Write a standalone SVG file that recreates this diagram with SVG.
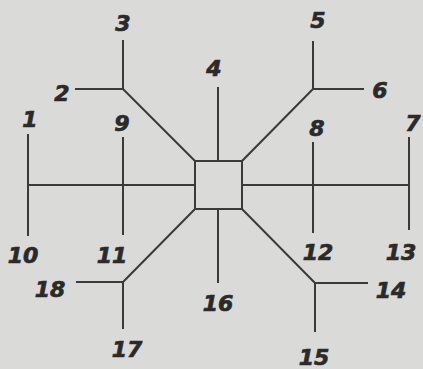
<svg xmlns="http://www.w3.org/2000/svg" width="423" height="369" viewBox="0 0 423 369">
<style>
.c{stroke:#3a3a3a;stroke-width:2;fill:none;stroke-linecap:square}
.t{font-family:"DejaVu Sans",sans-serif;font-weight:bold;font-style:italic;font-size:22px;fill:#2a2a2a;stroke:#2a2a2a;stroke-width:0.7;text-anchor:middle}
</style>
<rect width="423" height="369" fill="#dadad8"/>
<g id="connectors" class="c">
<path d="M28 185H195M242 185H409"/>
<path d="M28 135V235M123 138V234M313 143V232M409 138V229"/>
<path d="M218 88V161M218 209V282"/>
<path d="M195 161L123 89M123 41V89M76 89H123"/>
<path d="M242 161L313 89M313 42V89M313 89H363"/>
<path d="M195 209L123 282M77 282H123M123 282V328"/>
<path d="M242 209L315 283M315 283H367M315 283V331"/>
</g>
<g id="center"><rect class="c" x="195" y="161" width="47" height="48"/></g>
<g id="n1"><text class="t" x="30" y="127">1</text></g>
<g id="n2"><text class="t" x="62" y="101">2</text></g>
<g id="n3"><text class="t" x="123" y="31">3</text></g>
<g id="n4"><text class="t" x="214" y="76">4</text></g>
<g id="n5"><text class="t" x="318" y="28">5</text></g>
<g id="n6"><text class="t" x="380" y="98">6</text></g>
<g id="n7"><text class="t" x="413" y="131">7</text></g>
<g id="n8"><text class="t" x="317" y="136">8</text></g>
<g id="n9"><text class="t" x="122" y="131">9</text></g>
<g id="n10"><text class="t" x="23" y="263">10</text></g>
<g id="n11"><text class="t" x="112" y="263">11</text></g>
<g id="n12"><text class="t" x="318" y="260">12</text></g>
<g id="n13"><text class="t" x="401" y="260">13</text></g>
<g id="n14"><text class="t" x="391" y="298">14</text></g>
<g id="n15"><text class="t" x="314" y="365">15</text></g>
<g id="n16"><text class="t" x="218" y="311">16</text></g>
<g id="n17"><text class="t" x="127" y="357">17</text></g>
<g id="n18"><text class="t" x="50" y="297">18</text></g>
</svg>
